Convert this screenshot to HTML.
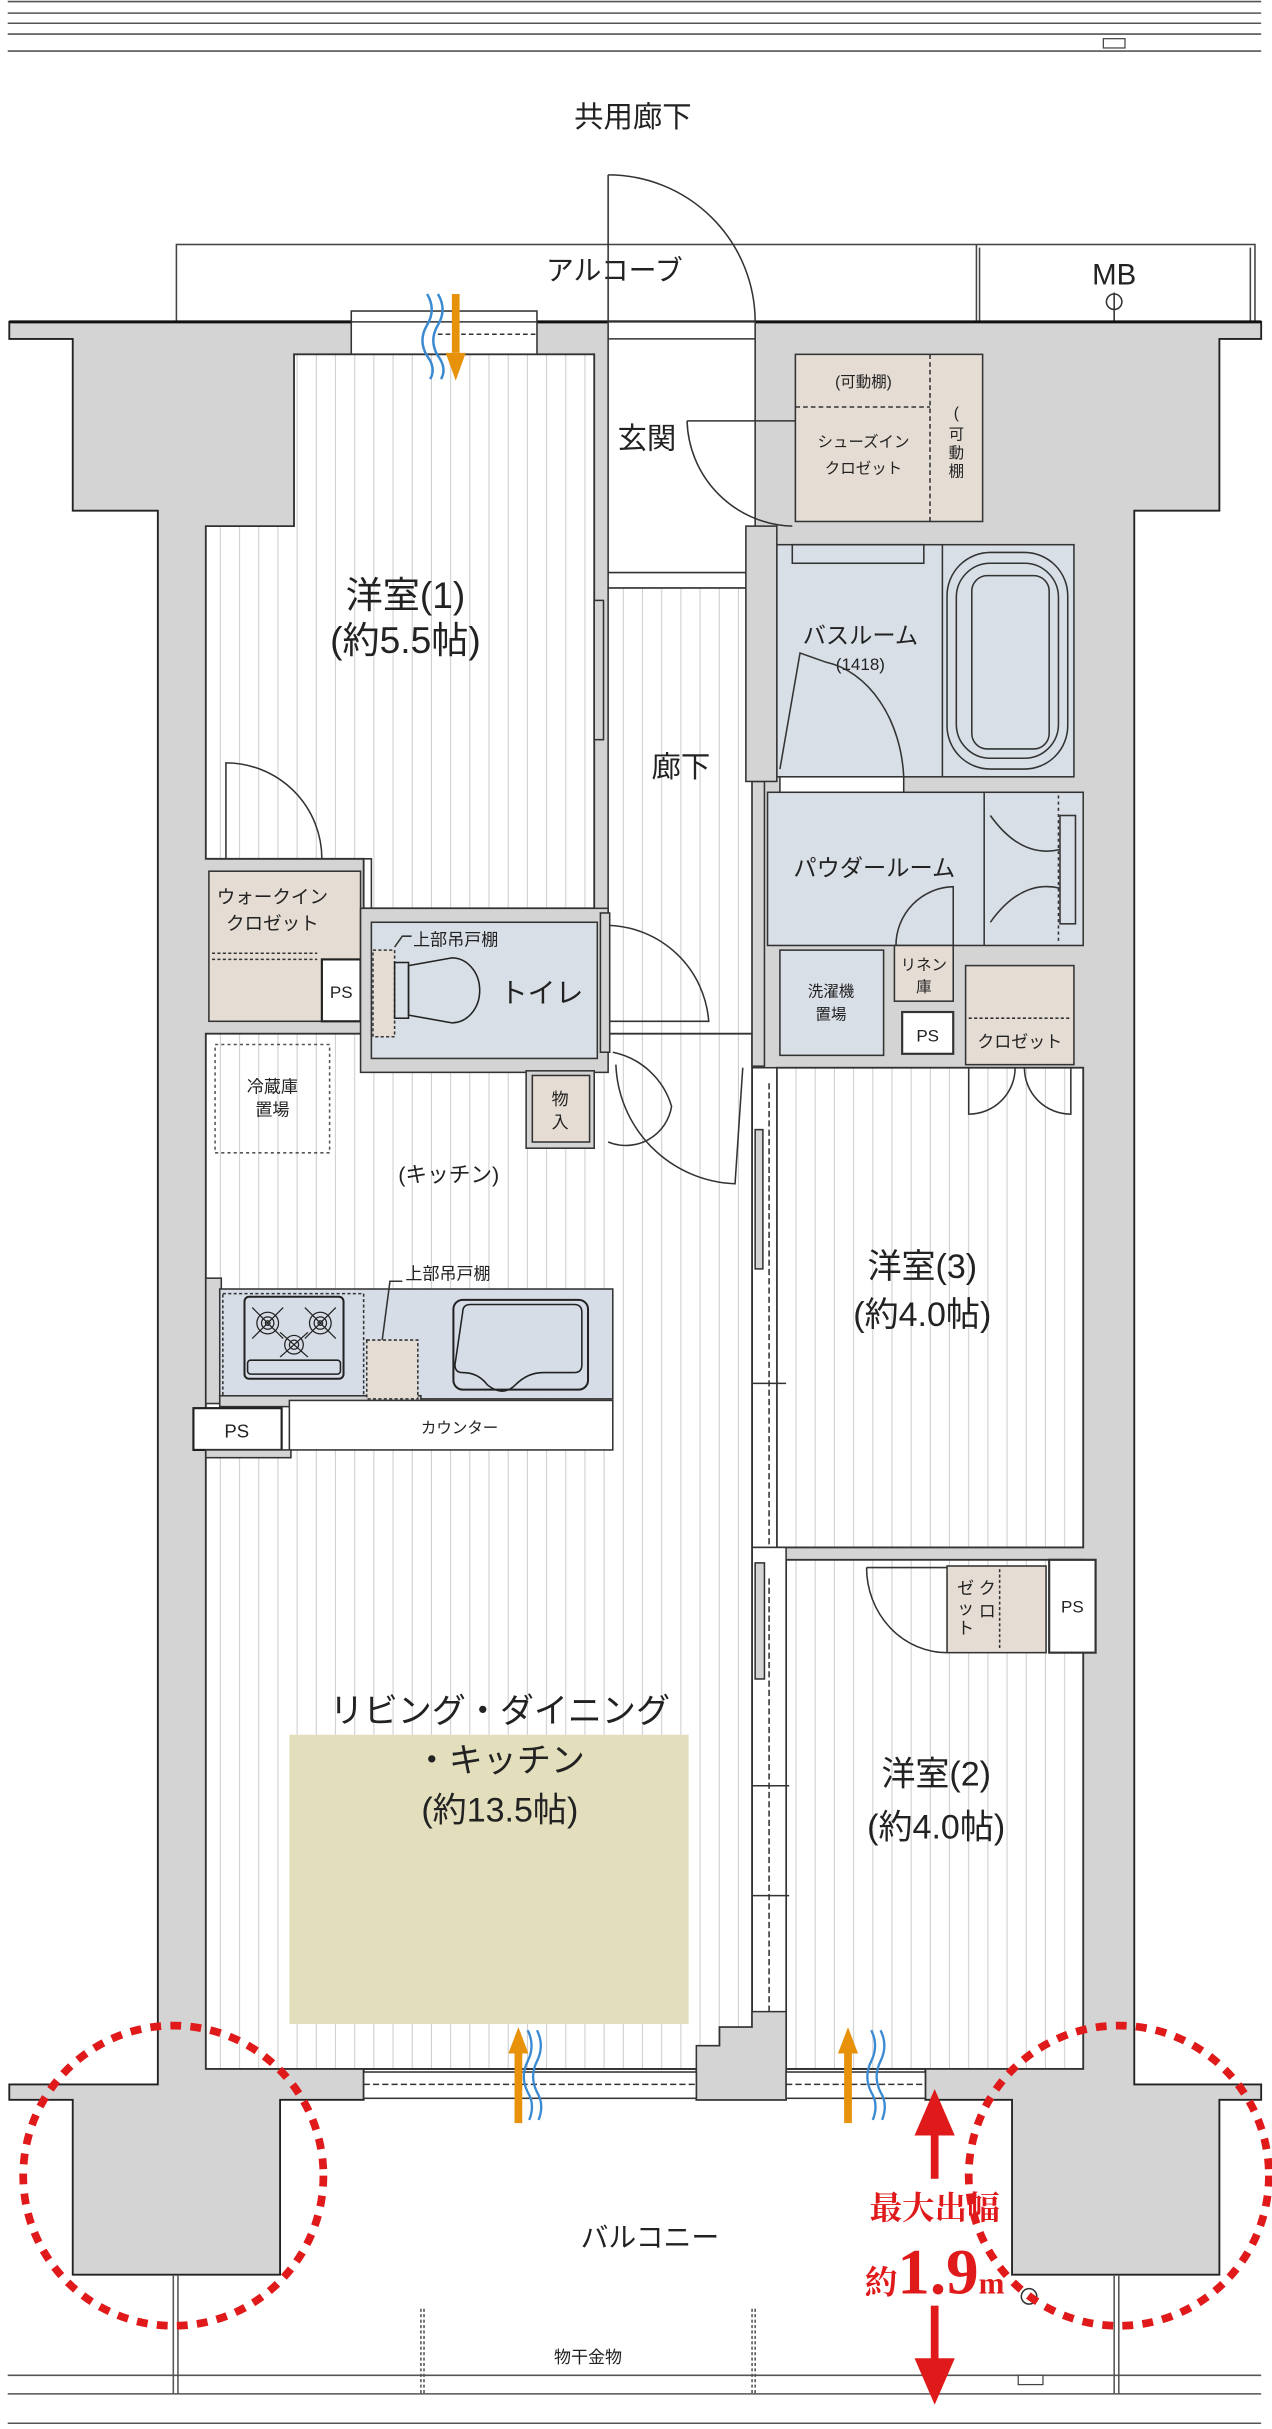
<!DOCTYPE html>
<html><head><meta charset="utf-8"><style>
html,body{margin:0;padding:0;background:#fff;}
svg{display:block;}
text{font-family:"Liberation Sans","Noto Sans CJK JP",sans-serif;fill:#222;}
</style></head><body>
<svg width="1272" height="2429" viewBox="0 0 822 1569.7" preserveAspectRatio="none" xmlns="http://www.w3.org/2000/svg">
<defs>
<pattern id="st" width="12.4" height="20" patternUnits="userSpaceOnUse">
<rect width="12.4" height="20" fill="#fff"/>
<line x1="6" y1="0" x2="6" y2="20" stroke="#cfcfcf" stroke-width="0.7"/>
</pattern>
</defs>
<rect width="822" height="1569.7" fill="#fff"/>
<g stroke="#555" stroke-width="1">
<line x1="5" y1="1" x2="815" y2="1"/><line x1="5" y1="8.5" x2="815" y2="8.5"/>
<line x1="5" y1="15" x2="815" y2="15"/><line x1="5" y1="22" x2="815" y2="22"/>
<line x1="5" y1="33" x2="815" y2="33"/>
</g>
<rect x="713" y="25" width="14" height="6" fill="#fff" stroke="#444" stroke-width="0.8"/>
<text x="409" y="82" font-size="19" text-anchor="middle">共用廊下</text>
<rect x="114" y="158" width="697" height="50" fill="none" stroke="#444" stroke-width="1"/>
<line x1="631" y1="158" x2="631" y2="208" stroke="#444"/><line x1="633" y1="160" x2="633" y2="208" stroke="#444"/>
<line x1="808" y1="160" x2="808" y2="208" stroke="#444"/>
<text x="720" y="184" font-size="19" text-anchor="middle">MB</text>
<circle cx="720" cy="195" r="5" fill="#fff" stroke="#333"/>
<line x1="720" y1="189" x2="720" y2="208" stroke="#333"/>
<text x="397" y="181" font-size="18" text-anchor="middle">アルコーブ</text>
<g fill="#d4d4d4" stroke="#222" stroke-width="1.2">
<path d="M6 208 H815 V219 H788 V330 H733 V1347 H815 V1357 H788 V1470 H654 V1357 H598 V1337 H508 V1357 H450 V1337 H235 V1357 H181 V1470 H47 V1357 H6 V1347 H102 V330 H47 V219 H6 Z"/>
</g>
<line x1="6" y1="208" x2="815" y2="208" stroke="#111" stroke-width="2"/>
<rect x="227" y="201" width="120" height="28" fill="#fff" stroke="#333"/>
<line x1="227" y1="208" x2="347" y2="208" stroke="#333"/>
<line x1="283" y1="216" x2="347" y2="216" stroke="#333" stroke-dasharray="3,2"/>
<rect x="393" y="208" width="95" height="172" fill="#fff" stroke="#333"/>
<rect x="393" y="380" width="93" height="300" fill="url(#st)" stroke="#333"/>
<line x1="393" y1="370" x2="486" y2="370" stroke="#333"/>
<line x1="393" y1="219" x2="488" y2="219" stroke="#333"/>
<line x1="393" y1="113" x2="393" y2="208" stroke="#333"/>
<path d="M393 113 A95 95 0 0 1 488 208" fill="none" stroke="#333"/>
<text x="418" y="290" font-size="19" text-anchor="middle">玄関</text>
<path d="M444 272 H514 M444 272 A70 70 0 0 0 512 340" fill="none" stroke="#333"/>
<rect x="514" y="229" width="121" height="108" fill="#e5ddd4" stroke="#333"/>
<path d="M514 263 H601 M601 229 V337" stroke="#333" stroke-dasharray="3,2"/>
<text x="558" y="250" font-size="10" text-anchor="middle">(可動棚)</text>
<text x="558" y="289" font-size="10" text-anchor="middle">シューズイン</text>
<text x="558" y="306" font-size="10" text-anchor="middle">クロゼット</text>
<text x="618" y="270" font-size="10" text-anchor="middle">(</text>
<text x="618" y="284" font-size="10" text-anchor="middle">可</text>
<text x="618" y="296" font-size="10" text-anchor="middle">動</text>
<text x="618" y="308" font-size="10" text-anchor="middle">棚</text>
<path d="M190 229 H384 V587 H235 V555 H133 V340 H190 Z" fill="url(#st)" stroke="#333" stroke-width="1.2"/>
<text x="262" y="393" font-size="24" text-anchor="middle">洋室(1)</text>
<text x="262" y="422" font-size="24" text-anchor="middle">(約5.5帖)</text>
<path d="M146 555 V493 A62 62 0 0 1 208 555" fill="none" stroke="#333"/>
<rect x="384" y="388" width="6" height="90" fill="#d4d4d4" stroke="#333"/>
<text x="440" y="502" font-size="19" text-anchor="middle">廊下</text>
<path d="M276 190 q6 10 0 20 q-6 10 0 20 q6 8 2 15 M283 190 q6 10 0 20 q-6 10 0 20 q6 8 2 15" fill="none" stroke="#3a8ad2" stroke-width="1.6"/>
<rect x="292" y="190" width="5" height="38" fill="#e8920c"/>
<path d="M288 228 L294.5 246 L301 228 Z" fill="#e8920c"/>
<rect x="502" y="352" width="192" height="150" fill="#d9dfe7" stroke="#333"/>
<rect x="512" y="352" width="85" height="12" fill="none" stroke="#333"/>
<line x1="609" y1="352" x2="609" y2="502" stroke="#333"/>
<rect x="612" y="357" width="78" height="140" rx="28" fill="none" stroke="#333"/>
<rect x="618" y="364" width="66" height="126" rx="22" fill="none" stroke="#333"/>
<rect x="628" y="372" width="50" height="112" rx="10" fill="none" stroke="#333"/>
<text x="556" y="416" font-size="15" text-anchor="middle">バスルーム</text>
<text x="556" y="433" font-size="11" text-anchor="middle">(1418)</text>
<path d="M504 497 L517 422 L534 428 M584 502 A60 80 0 0 0 534 428" fill="none" stroke="#333"/>
<rect x="504" y="502" width="80" height="10" fill="#fff" stroke="#333"/>
<rect x="496" y="512" width="204" height="99" fill="#d9dfe7" stroke="#333"/>
<line x1="636" y1="512" x2="636" y2="611" stroke="#333"/>
<line x1="684" y1="514" x2="684" y2="609" stroke="#333" stroke-dasharray="2,2"/>
<path d="M640 527 q20 28 45 22 M640 596 q20 -28 45 -22" fill="none" stroke="#333"/>
<rect x="685" y="527" width="10" height="70" fill="none" stroke="#333"/>
<text x="565" y="566" font-size="15" text-anchor="middle">パウダールーム</text>
<path d="M579 611 A38 38 0 0 1 616 573 V611" fill="none" stroke="#333"/>
<rect x="504" y="614" width="67" height="68" fill="#d9dfe7" stroke="#333"/>
<text x="537" y="644" font-size="10" text-anchor="middle">洗濯機</text>
<text x="537" y="659" font-size="10" text-anchor="middle">置場</text>
<rect x="578" y="611" width="38" height="36" fill="#e5ddd4" stroke="#333"/>
<text x="597" y="627" font-size="10" text-anchor="middle">リネン</text>
<text x="597" y="641" font-size="10" text-anchor="middle">庫</text>
<rect x="583" y="654" width="33" height="27" fill="#fff" stroke="#333" stroke-width="1.4"/>
<text x="599.5" y="673" font-size="11" text-anchor="middle">PS</text>
<rect x="624" y="624" width="70" height="64" fill="#e5ddd4" stroke="#333"/>
<line x1="626" y1="658" x2="692" y2="658" stroke="#333" stroke-dasharray="2,1.5"/>
<text x="659" y="677" font-size="11" text-anchor="middle">クロゼット</text>
<rect x="502" y="690" width="198" height="310" fill="url(#st)" stroke="#333" stroke-width="1.2"/>
<path d="M626 690 V720 A30 30 0 0 0 656 690 M692 690 V720 A30 30 0 0 1 662 690" fill="none" stroke="#333"/>
<text x="596" y="826" font-size="22" text-anchor="middle">洋室(3)</text>
<text x="596" y="857" font-size="22" text-anchor="middle">(約4.0帖)</text>
<rect x="486" y="690" width="16" height="310" fill="#fff" stroke="#333"/>
<rect x="488" y="730" width="5" height="90" fill="#d4d4d4" stroke="#333"/>
<line x1="497" y1="700" x2="497" y2="1000" stroke="#333" stroke-dasharray="4,2"/>
<line x1="481" y1="894" x2="508" y2="894" stroke="#333"/>
<rect x="508" y="1008" width="192" height="329" fill="url(#st)" stroke="#333" stroke-width="1.2"/>
<rect x="486" y="1000" width="22" height="337" fill="#fff" stroke="#333"/>
<rect x="488" y="1010" width="6" height="75" fill="#d4d4d4" stroke="#333"/>
<line x1="497" y1="1020" x2="497" y2="1320" stroke="#333" stroke-dasharray="4,2"/>
<line x1="481" y1="1154" x2="510" y2="1154" stroke="#333"/><line x1="481" y1="1225" x2="510" y2="1225" stroke="#333"/>
<rect x="612" y="1012" width="64" height="56" fill="#e5ddd4" stroke="#333"/>
<line x1="646" y1="1014" x2="646" y2="1066" stroke="#333" stroke-dasharray="2,1.5"/>
<text x="624" y="1030" font-size="11" text-anchor="middle">ゼ</text><text x="624" y="1043" font-size="11" text-anchor="middle">ッ</text><text x="624" y="1056" font-size="11" text-anchor="middle">ト</text>
<text x="638" y="1030" font-size="11" text-anchor="middle">ク</text><text x="638" y="1045" font-size="11" text-anchor="middle">ロ</text>
<rect x="678" y="1008" width="30" height="60" fill="#fff" stroke="#333" stroke-width="1.4"/>
<text x="693" y="1042" font-size="11" text-anchor="middle">PS</text>
<path d="M560 1013 H612 M560 1013 A52 55 0 0 0 612 1068" fill="none" stroke="#333"/>
<text x="605" y="1154" font-size="22" text-anchor="middle">洋室(2)</text>
<text x="605" y="1188" font-size="22" text-anchor="middle">(約4.0帖)</text>
<path d="M133 668 H486 V1000 H486 V1310 H465 V1337 H133 Z" fill="url(#st)" stroke="#333" stroke-width="1.2"/>
<path d="M450 1337 V1322 H465 V1310 H486 V1300 H508 V1357 H450 Z" fill="#d4d4d4" stroke="#333"/>
<rect x="187" y="1121" width="258" height="187" fill="#e3dfbd"/>
<text x="323" y="1113" font-size="22" text-anchor="middle">リビング・ダイニング</text>
<text x="323" y="1145" font-size="22" text-anchor="middle">・キッチン</text>
<text x="323" y="1177" font-size="22" text-anchor="middle">(約13.5帖)</text>
<rect x="139" y="675" width="74" height="70" fill="none" stroke="#555" stroke-dasharray="2,2"/>
<text x="176" y="706" font-size="11" text-anchor="middle">冷蔵庫</text>
<text x="176" y="721" font-size="11" text-anchor="middle">置場</text>
<text x="290" y="764" font-size="14" text-anchor="middle">(キッチン)</text>
<rect x="133" y="826" width="10" height="81" fill="#d4d4d4" stroke="#333"/>
<rect x="142" y="833" width="254" height="71" fill="#d6dde6" stroke="#333"/>
<rect x="142" y="902" width="130" height="7" fill="#d4d4d4" stroke="#333"/>
<rect x="144" y="836" width="91" height="66" fill="none" stroke="#333" stroke-dasharray="2,1.5"/>
<rect x="158" y="838" width="64" height="53" rx="3" fill="none" stroke="#222" stroke-width="1.3"/>
<rect x="160" y="879" width="60" height="9" rx="2" fill="none" stroke="#222"/>
<g fill="none" stroke="#222" stroke-width="0.8">
<circle cx="173" cy="855" r="7"/><circle cx="173" cy="855" r="4"/><circle cx="173" cy="855" r="1.5"/>
<circle cx="207" cy="855" r="7"/><circle cx="207" cy="855" r="4"/><circle cx="207" cy="855" r="1.5"/>
<circle cx="190" cy="869" r="6"/><circle cx="190" cy="869" r="3"/>
<path d="M163 845 L183 865 M183 845 L163 865 M197 845 L217 865 M217 845 L197 865 M181 861 L199 877 M199 861 L181 877"/>
</g>
<rect x="237" y="866" width="33" height="38" fill="#e5ddd4" stroke="#333" stroke-dasharray="2,1.5"/>
<rect x="293" y="840" width="87" height="58" rx="6" fill="none" stroke="#222" stroke-width="1.3"/>
<path d="M299 848 q0 -5 5 -5 h67 q5 0 5 5 v34 q0 5 -5 5 h-20 q-10 0 -18 8 q-8 8 -18 0 q-6 -8 -16 -8 q-5 0 -5 -5 Z" fill="none" stroke="#222"/>
<path d="M247 866 L252 828 H260" fill="none" stroke="#333"/>
<text x="262" y="827" font-size="11">上部吊戸棚</text>
<rect x="187" y="905" width="209" height="32" fill="#fff" stroke="#333"/>
<text x="297" y="926" font-size="10" text-anchor="middle">カウンター</text>
<rect x="125" y="910" width="57" height="27" fill="#fff" stroke="#222" stroke-width="1.4"/>
<text x="153" y="929" font-size="12" text-anchor="middle">PS</text>
<rect x="133" y="937" width="55" height="5" fill="#d4d4d4" stroke="#333"/>
<rect x="135" y="563" width="98" height="97" fill="#e5ddd4" stroke="#333"/>
<path d="M135 555 H240 V668" fill="none" stroke="#333"/>
<path d="M137 616 H205 M137 620 H205" stroke="#333" stroke-dasharray="2,1.5"/>
<text x="176" y="584" font-size="12" text-anchor="middle">ウォークイン</text>
<text x="176" y="601" font-size="12" text-anchor="middle">クロゼット</text>
<rect x="208" y="620" width="25" height="40" fill="#fff" stroke="#222" stroke-width="1.4"/>
<text x="220.5" y="645" font-size="11" text-anchor="middle">PS</text>
<rect x="233" y="587" width="160" height="106" fill="#d4d4d4" stroke="#333"/>
<rect x="240" y="596" width="146" height="88" fill="#d9dfe7" stroke="#333"/>
<rect x="241" y="614" width="14" height="56" fill="#e5ddd4" stroke="#333" stroke-dasharray="2,1.5"/>
<rect x="255" y="622" width="9" height="36" fill="none" stroke="#222"/>
<path d="M264 624 L292 619 A18 21 0 0 1 292 661 L264 656 Z" fill="none" stroke="#222"/>
<path d="M255 612 L260 605 H266" fill="none" stroke="#333"/>
<text x="267" y="611" font-size="11">上部吊戸棚</text>
<text x="350" y="648" font-size="18" text-anchor="middle">トイレ</text>
<rect x="340" y="692" width="44" height="50" fill="#d4d4d4" stroke="#333"/>
<rect x="344" y="695" width="37" height="43" fill="#e5ddd4" stroke="#333"/>
<text x="362" y="714" font-size="11" text-anchor="middle">物</text>
<text x="362" y="729" font-size="11" text-anchor="middle">入</text>
<path d="M393 598 A67 67 0 0 1 458 660 H393 Z" fill="none" stroke="#333"/>
<rect x="388" y="590" width="6" height="90" fill="#d4d4d4" stroke="#333"/>
<path d="M396 680 A50 50 0 0 1 434 715 A30 30 0 0 1 393 738 M398 688 A80 80 0 0 0 475 765 L480 690" fill="none" stroke="#333"/>
<rect x="486" y="505" width="8" height="184" fill="#d4d4d4" stroke="#333"/>
<rect x="482" y="340" width="20" height="165" fill="#d4d4d4" stroke="#333"/>
<rect x="235" y="1339" width="215" height="17" fill="#fff" stroke="#333"/>
<line x1="235" y1="1347" x2="450" y2="1347" stroke="#333" stroke-dasharray="4,2"/>
<rect x="508" y="1339" width="90" height="17" fill="#fff" stroke="#333"/>
<line x1="508" y1="1347" x2="598" y2="1347" stroke="#333" stroke-dasharray="4,2"/>
<g fill="none" stroke="#3a8ad2" stroke-width="1.5">
<path d="M341 1312 q5 10 0 20 q-5 10 0 20 q5 8 1 18 M347 1312 q5 10 0 20 q-5 10 0 20 q5 8 1 18"/>
<path d="M563 1312 q5 10 0 20 q-5 10 0 20 q5 8 1 18 M569 1312 q5 10 0 20 q-5 10 0 20 q5 8 1 18"/>
</g>
<g fill="#e8920c">
<rect x="332.5" y="1326" width="5" height="46"/><path d="M328.5 1327 L335 1310 L341.5 1327 Z"/>
<rect x="545.5" y="1326" width="5" height="46"/><path d="M541.5 1327 L548 1310 L554.5 1327 Z"/>
</g>
<text x="420" y="1452" font-size="18" text-anchor="middle">バルコニー</text>
<g stroke="#555" stroke-width="1">
<line x1="5" y1="1535" x2="815" y2="1535"/><line x1="5" y1="1547" x2="815" y2="1547"/>
<line x1="5" y1="1566" x2="815" y2="1566"/>
<line x1="112" y1="1470" x2="112" y2="1547"/><line x1="115" y1="1470" x2="115" y2="1547"/>
<line x1="720" y1="1470" x2="720" y2="1547"/><line x1="723" y1="1470" x2="723" y2="1547"/>
</g>
<g stroke="#555" stroke-dasharray="2,1.5">
<line x1="272" y1="1492" x2="272" y2="1547"/><line x1="274" y1="1492" x2="274" y2="1547"/>
<line x1="486" y1="1492" x2="486" y2="1547"/><line x1="488" y1="1492" x2="488" y2="1547"/>
</g>
<text x="380" y="1527" font-size="11" text-anchor="middle">物干金物</text>
<rect x="658" y="1535" width="16" height="6" fill="#fff" stroke="#444" stroke-width="0.8"/>
<circle cx="665" cy="1484" r="5" fill="#fff" stroke="#333"/>
<g fill="none" stroke="#e01a1a" stroke-width="5" stroke-dasharray="7,6">
<ellipse cx="112" cy="1406" rx="97" ry="97"/>
<ellipse cx="723" cy="1406" rx="97" ry="97"/>
</g>
<g fill="#e01a1a">
<path d="M591 1380 L604 1350 L617 1380 Z"/><rect x="601.5" y="1378" width="5" height="30"/>
<rect x="601.5" y="1490" width="5" height="36"/><path d="M591 1524 L604 1554 L617 1524 Z"/>
</g>
<text x="604" y="1434" font-size="21" font-weight="bold" text-anchor="middle" style="fill:#e01a1a;font-family:'Liberation Serif','Noto Serif CJK SC',serif">最大出幅</text>
<text x="604" y="1482" text-anchor="middle" style="fill:#e01a1a;font-family:'Liberation Serif','Noto Serif CJK SC',serif;font-weight:bold"><tspan font-size="21">約</tspan><tspan font-size="42">1.9</tspan><tspan font-size="20">m</tspan></text>
</svg>
</body></html>
